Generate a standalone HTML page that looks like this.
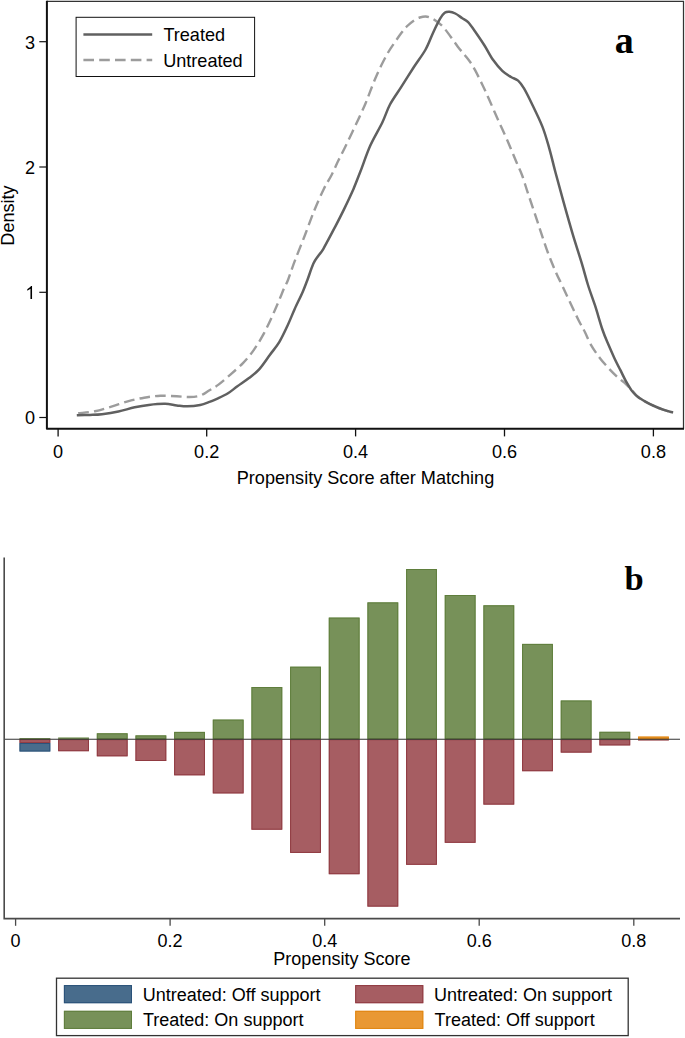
<!DOCTYPE html>
<html><head><meta charset="utf-8"><title>Figure</title>
<style>
html,body{margin:0;padding:0;background:#fff;}
body{width:685px;height:1038px;overflow:hidden;font-family:"Liberation Sans", sans-serif;}
svg{display:block;}
</style></head><body>
<svg width="685" height="1038" viewBox="0 0 685 1038">
<rect width="685" height="1038" fill="#fff"/>
<g font-family='"Liberation Sans", sans-serif' font-size="18.1" fill="#000">
<path d="M46.9,1.3 H683.5 V428.8" fill="none" stroke="#333" stroke-width="1.25"/>
<path d="M46.9,0.8 V428.8 H684.0" fill="none" stroke="#111" stroke-width="2" stroke-linejoin="round"/>
<line x1="39.3" x2="46.9" y1="41.7" y2="41.7" stroke="#111" stroke-width="1.2"/>
<text x="35.2" y="48.6" text-anchor="end">3</text>
<line x1="39.3" x2="46.9" y1="167.0" y2="167.0" stroke="#111" stroke-width="1.2"/>
<text x="35.2" y="173.9" text-anchor="end">2</text>
<line x1="39.3" x2="46.9" y1="292.3" y2="292.3" stroke="#111" stroke-width="1.2"/>
<path transform="translate(25.3,298.90) scale(0.008838,-0.008838)" d="M763,0 H583 V1147 Q518,1085 412.5,1023 Q307,961 223,930 V1104 Q374,1175 487,1276 Q600,1377 647,1472 H763 Z"/>
<line x1="39.3" x2="46.9" y1="417.5" y2="417.5" stroke="#111" stroke-width="1.2"/>
<text x="35.2" y="424.4" text-anchor="end">0</text>
<line x1="58.1" x2="58.1" y1="428.8" y2="436.4" stroke="#111" stroke-width="1.3"/>
<text x="58.1" y="457.9" text-anchor="middle">0</text>
<line x1="206.7" x2="206.7" y1="428.8" y2="436.4" stroke="#111" stroke-width="1.3"/>
<text x="206.7" y="457.9" text-anchor="middle">0.2</text>
<line x1="355.6" x2="355.6" y1="428.8" y2="436.4" stroke="#111" stroke-width="1.3"/>
<text x="355.6" y="457.9" text-anchor="middle">0.4</text>
<line x1="504.5" x2="504.5" y1="428.8" y2="436.4" stroke="#111" stroke-width="1.3"/>
<text x="504.5" y="457.9" text-anchor="middle">0.6</text>
<line x1="653.4" x2="653.4" y1="428.8" y2="436.4" stroke="#111" stroke-width="1.3"/>
<text x="653.4" y="457.9" text-anchor="middle">0.8</text>
<text x="365.5" y="483.8" text-anchor="middle">Propensity Score after Matching</text>
<text transform="translate(14.4,215.5) rotate(-90)" text-anchor="middle">Density</text>
<path d="M78.2,413.3 C81.0,412.9 89.5,412.3 95.0,411.2 C100.5,410.1 106.0,408.2 111.4,406.6 C116.9,405.0 122.2,402.9 127.7,401.4 C133.2,399.9 138.7,398.6 144.1,397.7 C149.5,396.8 154.9,396.0 160.4,395.8 C165.9,395.6 171.9,396.1 176.8,396.3 C181.7,396.5 185.7,397.1 189.6,397.0 C193.5,396.9 196.9,396.7 200.2,395.6 C203.5,394.5 206.4,392.0 209.5,390.2 C212.6,388.4 215.0,387.2 218.5,384.6 C222.0,382.0 226.3,378.2 230.4,374.6 C234.5,371.0 239.3,367.0 243.2,362.9 C247.1,358.8 250.4,354.8 253.7,350.1 C257.0,345.4 260.2,340.2 263.1,334.9 C266.0,329.6 268.7,323.9 271.2,318.5 C273.7,313.1 276.1,307.2 278.3,302.2 C280.5,297.1 282.5,291.9 284.1,288.2 C285.7,284.5 286.2,284.6 288.0,280.0 C289.8,275.4 292.1,267.9 295.0,260.4 C297.9,252.8 301.9,243.1 305.1,234.7 C308.3,226.3 311.3,217.8 314.4,210.2 C317.5,202.6 320.8,195.1 323.7,189.2 C326.6,183.3 329.2,179.7 331.6,175.0 C334.0,170.3 335.7,166.0 338.0,161.3 C340.3,156.6 342.9,151.7 345.3,146.7 C347.7,141.7 350.2,136.5 352.6,131.4 C355.0,126.3 357.8,120.8 359.9,116.1 C362.0,111.4 363.8,107.6 365.5,103.5 C367.2,99.4 368.5,95.8 370.1,91.6 C371.7,87.4 373.5,82.8 375.3,78.5 C377.1,74.2 378.9,70.2 381.1,65.8 C383.3,61.4 386.0,56.1 388.4,52.0 C390.8,47.9 393.3,44.5 395.5,41.3 C397.7,38.1 399.6,35.3 401.5,32.8 C403.4,30.3 404.6,28.6 406.7,26.5 C408.8,24.4 411.8,21.9 414.0,20.4 C416.2,18.9 417.9,18.1 419.8,17.5 C421.8,16.9 423.8,16.4 425.7,16.5 C427.6,16.6 429.6,17.3 431.5,18.2 C433.4,19.1 435.4,20.4 437.3,21.9 C439.2,23.4 441.0,24.6 443.2,27.0 C445.4,29.4 448.1,33.2 450.5,36.5 C452.9,39.8 455.4,43.5 457.8,46.7 C460.2,49.9 463.1,53.0 465.1,55.5 C467.1,58.0 468.3,59.4 470.0,61.8 C471.7,64.2 473.1,66.4 475.1,70.1 C477.1,73.8 479.7,79.3 482.0,84.0 C484.3,88.7 486.0,92.5 488.7,98.5 C491.4,104.5 494.9,112.8 498.0,119.8 C501.1,126.8 504.3,133.4 507.4,140.6 C510.5,147.8 514.3,157.1 516.7,162.8 C519.1,168.5 520.1,169.9 522.0,175.0 C523.9,180.1 525.4,185.7 528.0,193.4 C530.6,201.1 534.3,212.1 537.4,221.4 C540.5,230.7 543.6,240.8 546.7,249.4 C549.8,258.0 553.6,266.9 556.1,272.8 C558.6,278.7 559.8,280.3 562.0,285.0 C564.2,289.7 566.6,295.1 569.4,301.0 C572.2,306.9 576.1,315.3 578.7,320.5 C581.3,325.7 583.0,328.2 585.0,332.2 C587.0,336.2 588.4,340.4 590.8,344.6 C593.2,348.9 596.7,353.8 599.6,357.7 C602.5,361.6 605.5,364.8 608.4,368.0 C611.3,371.2 614.2,374.0 617.1,376.7 C620.0,379.4 623.5,381.8 625.9,384.0 C628.3,386.2 630.0,388.1 631.7,389.9 C633.4,391.7 634.6,393.6 636.0,395.0 C637.4,396.4 638.6,397.4 640.3,398.6 C642.0,399.8 644.2,401.1 646.3,402.2 C648.4,403.3 650.2,404.2 653.0,405.5 C655.8,406.8 659.8,408.5 663.1,409.7 C666.5,410.9 671.4,412.1 673.1,412.6" fill="none" stroke="#9c9c9c" stroke-width="2.4" stroke-dasharray="10.6 5.2"/>
<path d="M76.8,415.2 C79.0,415.1 85.8,415.0 90.0,414.9 C94.2,414.8 97.3,414.9 102.0,414.3 C106.7,413.7 113.0,412.7 118.4,411.5 C123.9,410.3 129.6,408.4 134.7,407.3 C139.8,406.2 143.7,405.5 148.8,404.9 C153.9,404.3 160.4,403.7 165.1,403.8 C169.8,403.9 173.1,405.0 176.8,405.4 C180.5,405.8 183.4,406.4 187.3,406.3 C191.2,406.2 196.5,405.6 200.2,404.9 C203.9,404.2 206.5,403.0 209.5,401.9 C212.5,400.8 214.9,399.7 218.0,398.3 C221.1,396.9 224.8,395.3 228.0,393.3 C231.2,391.3 233.9,388.8 237.4,386.3 C240.9,383.8 245.3,381.0 249.0,378.1 C252.7,375.2 256.1,372.7 259.6,368.8 C263.1,364.9 266.7,359.2 270.0,354.7 C273.3,350.2 276.5,346.8 279.4,341.9 C282.3,337.0 285.1,330.9 287.6,325.5 C290.1,320.1 292.1,314.8 294.6,309.2 C297.1,303.6 300.7,296.6 302.8,291.7 C304.9,286.8 305.6,284.6 307.4,280.0 C309.1,275.4 311.5,267.8 313.3,263.8 C315.1,259.8 316.5,258.5 318.2,256.0 C319.9,253.5 320.6,253.5 323.4,248.8 C326.1,244.1 331.2,234.3 334.7,227.7 C338.1,221.1 341.0,215.5 344.1,209.1 C347.2,202.7 350.6,195.5 353.4,189.2 C356.1,182.8 357.8,178.2 360.6,171.0 C363.4,163.8 366.6,153.9 370.2,145.8 C373.8,137.7 379.0,129.4 382.3,122.5 C385.6,115.6 386.8,110.5 390.0,104.5 C393.2,98.5 397.6,92.7 401.6,86.4 C405.6,80.2 409.9,73.2 413.9,67.0 C417.9,60.9 422.4,55.2 425.6,49.5 C428.8,43.8 430.7,37.8 433.1,32.7 C435.5,27.6 438.2,22.0 440.1,18.7 C442.0,15.4 443.1,14.0 444.7,12.8 C446.2,11.6 447.6,11.6 449.4,11.7 C451.2,11.8 453.1,12.4 455.3,13.5 C457.5,14.6 460.2,16.8 462.3,18.2 C464.4,19.6 466.0,20.0 468.1,22.2 C470.2,24.4 472.4,27.6 475.1,31.5 C477.8,35.4 481.5,40.8 484.5,45.5 C487.5,50.2 490.0,55.6 493.0,59.8 C496.0,64.0 499.3,68.0 502.3,70.9 C505.3,73.8 508.4,75.4 511.0,77.0 C513.6,78.6 515.9,78.7 518.1,80.6 C520.3,82.5 521.8,84.7 524.0,88.4 C526.2,92.1 528.4,96.6 531.5,103.0 C534.6,109.4 539.4,119.0 542.4,126.6 C545.4,134.2 547.2,141.2 549.4,148.8 C551.6,156.5 553.2,163.9 555.5,172.5 C557.8,181.1 560.3,190.3 563.1,200.4 C565.9,210.5 569.3,222.6 572.4,233.1 C575.5,243.6 579.2,254.7 581.8,263.4 C584.4,272.0 585.8,277.9 588.0,285.0 C590.2,292.1 592.7,298.3 595.1,305.7 C597.5,313.1 600.2,323.0 602.4,329.5 C604.6,336.0 606.4,339.9 608.4,344.6 C610.4,349.3 612.3,353.6 614.2,357.7 C616.1,361.8 618.0,365.5 620.0,369.4 C622.0,373.3 623.9,377.6 625.9,381.1 C627.9,384.6 630.0,388.2 631.7,390.6 C633.4,393.0 634.6,394.0 636.0,395.3 C637.4,396.6 638.6,397.5 640.3,398.6 C642.0,399.8 644.2,401.1 646.3,402.2 C648.4,403.3 650.2,404.2 653.0,405.5 C655.8,406.8 659.8,408.5 663.1,409.7 C666.5,410.9 671.4,412.1 673.1,412.6" fill="none" stroke="#606060" stroke-width="2.5" stroke-linejoin="round"/>
<rect x="76.1" y="17.3" width="178.5" height="59.2" fill="#fff" stroke="#111" stroke-width="1"/>
<line x1="83.4" x2="152.2" y1="34.45" y2="34.45" stroke="#606060" stroke-width="2.5"/>
<line x1="83.4" x2="152.2" y1="59.95" y2="59.95" stroke="#9c9c9c" stroke-width="2.4" stroke-dasharray="10.6 5.2"/>
<text x="163.4" y="41.2">Treated</text>
<text x="163.2" y="66.9">Untreated</text>
</g>
<text x="614.7" y="53.2" font-family='"Liberation Serif", serif' font-weight="bold" font-size="38" fill="#000">a</text>
<g>
<rect x="19.50" y="742.90" width="30.80" height="8.60" fill="#486c8c"/>
<rect x="20.00" y="743.40" width="29.80" height="7.60" fill="none" stroke="#2a5279" stroke-width="1.00"/>
<rect x="19.50" y="739.20" width="30.80" height="3.70" fill="#a65d62"/>
<rect x="20.00" y="739.70" width="29.80" height="2.70" fill="none" stroke="#903a41" stroke-width="1.00"/>
<rect x="19.50" y="738.00" width="30.80" height="1.20" fill="#779159"/>
<rect x="19.50" y="738.00" width="30.80" height="1.20" fill="#5f7e3c" opacity="0.25"/>
<rect x="58.16" y="739.20" width="30.80" height="12.00" fill="#a65d62"/>
<rect x="58.66" y="739.70" width="29.80" height="11.00" fill="none" stroke="#903a41" stroke-width="1.00"/>
<rect x="58.16" y="737.50" width="30.80" height="1.70" fill="#779159"/>
<rect x="58.16" y="737.50" width="30.80" height="1.70" fill="#5f7e3c" opacity="0.25"/>
<rect x="96.82" y="739.20" width="30.80" height="17.10" fill="#a65d62"/>
<rect x="97.32" y="739.70" width="29.80" height="16.10" fill="none" stroke="#903a41" stroke-width="1.00"/>
<rect x="96.82" y="733.30" width="30.80" height="5.90" fill="#779159"/>
<rect x="97.32" y="733.80" width="29.80" height="4.90" fill="none" stroke="#5f7e3c" stroke-width="1.00"/>
<rect x="135.48" y="739.20" width="30.80" height="21.80" fill="#a65d62"/>
<rect x="135.98" y="739.70" width="29.80" height="20.80" fill="none" stroke="#903a41" stroke-width="1.00"/>
<rect x="135.48" y="735.40" width="30.80" height="3.80" fill="#779159"/>
<rect x="135.98" y="735.90" width="29.80" height="2.80" fill="none" stroke="#5f7e3c" stroke-width="1.00"/>
<rect x="174.14" y="739.20" width="30.80" height="36.10" fill="#a65d62"/>
<rect x="174.64" y="739.70" width="29.80" height="35.10" fill="none" stroke="#903a41" stroke-width="1.00"/>
<rect x="174.14" y="731.90" width="30.80" height="7.30" fill="#779159"/>
<rect x="174.64" y="732.40" width="29.80" height="6.30" fill="none" stroke="#5f7e3c" stroke-width="1.00"/>
<rect x="212.80" y="739.20" width="30.80" height="54.20" fill="#a65d62"/>
<rect x="213.30" y="739.70" width="29.80" height="53.20" fill="none" stroke="#903a41" stroke-width="1.00"/>
<rect x="212.80" y="719.60" width="30.80" height="19.60" fill="#779159"/>
<rect x="213.30" y="720.10" width="29.80" height="18.60" fill="none" stroke="#5f7e3c" stroke-width="1.00"/>
<rect x="251.46" y="739.20" width="30.80" height="90.50" fill="#a65d62"/>
<rect x="251.96" y="739.70" width="29.80" height="89.50" fill="none" stroke="#903a41" stroke-width="1.00"/>
<rect x="251.46" y="687.00" width="30.80" height="52.20" fill="#779159"/>
<rect x="251.96" y="687.50" width="29.80" height="51.20" fill="none" stroke="#5f7e3c" stroke-width="1.00"/>
<rect x="290.12" y="739.20" width="30.80" height="113.70" fill="#a65d62"/>
<rect x="290.62" y="739.70" width="29.80" height="112.70" fill="none" stroke="#903a41" stroke-width="1.00"/>
<rect x="290.12" y="666.70" width="30.80" height="72.50" fill="#779159"/>
<rect x="290.62" y="667.20" width="29.80" height="71.50" fill="none" stroke="#5f7e3c" stroke-width="1.00"/>
<rect x="328.78" y="739.20" width="30.80" height="135.00" fill="#a65d62"/>
<rect x="329.28" y="739.70" width="29.80" height="134.00" fill="none" stroke="#903a41" stroke-width="1.00"/>
<rect x="328.78" y="617.60" width="30.80" height="121.60" fill="#779159"/>
<rect x="329.28" y="618.10" width="29.80" height="120.60" fill="none" stroke="#5f7e3c" stroke-width="1.00"/>
<rect x="367.44" y="739.20" width="30.80" height="167.40" fill="#a65d62"/>
<rect x="367.94" y="739.70" width="29.80" height="166.40" fill="none" stroke="#903a41" stroke-width="1.00"/>
<rect x="367.44" y="602.40" width="30.80" height="136.80" fill="#779159"/>
<rect x="367.94" y="602.90" width="29.80" height="135.80" fill="none" stroke="#5f7e3c" stroke-width="1.00"/>
<rect x="406.10" y="739.20" width="30.80" height="125.60" fill="#a65d62"/>
<rect x="406.60" y="739.70" width="29.80" height="124.60" fill="none" stroke="#903a41" stroke-width="1.00"/>
<rect x="406.10" y="569.00" width="30.80" height="170.20" fill="#779159"/>
<rect x="406.60" y="569.50" width="29.80" height="169.20" fill="none" stroke="#5f7e3c" stroke-width="1.00"/>
<rect x="444.76" y="739.20" width="30.80" height="103.60" fill="#a65d62"/>
<rect x="445.26" y="739.70" width="29.80" height="102.60" fill="none" stroke="#903a41" stroke-width="1.00"/>
<rect x="444.76" y="595.00" width="30.80" height="144.20" fill="#779159"/>
<rect x="445.26" y="595.50" width="29.80" height="143.20" fill="none" stroke="#5f7e3c" stroke-width="1.00"/>
<rect x="483.42" y="739.20" width="30.80" height="65.40" fill="#a65d62"/>
<rect x="483.92" y="739.70" width="29.80" height="64.40" fill="none" stroke="#903a41" stroke-width="1.00"/>
<rect x="483.42" y="605.30" width="30.80" height="133.90" fill="#779159"/>
<rect x="483.92" y="605.80" width="29.80" height="132.90" fill="none" stroke="#5f7e3c" stroke-width="1.00"/>
<rect x="522.08" y="739.20" width="30.80" height="32.00" fill="#a65d62"/>
<rect x="522.58" y="739.70" width="29.80" height="31.00" fill="none" stroke="#903a41" stroke-width="1.00"/>
<rect x="522.08" y="643.90" width="30.80" height="95.30" fill="#779159"/>
<rect x="522.58" y="644.40" width="29.80" height="94.30" fill="none" stroke="#5f7e3c" stroke-width="1.00"/>
<rect x="560.74" y="739.20" width="30.80" height="13.40" fill="#a65d62"/>
<rect x="561.24" y="739.70" width="29.80" height="12.40" fill="none" stroke="#903a41" stroke-width="1.00"/>
<rect x="560.74" y="700.50" width="30.80" height="38.70" fill="#779159"/>
<rect x="561.24" y="701.00" width="29.80" height="37.70" fill="none" stroke="#5f7e3c" stroke-width="1.00"/>
<rect x="599.40" y="739.20" width="30.80" height="6.20" fill="#a65d62"/>
<rect x="599.90" y="739.70" width="29.80" height="5.20" fill="none" stroke="#903a41" stroke-width="1.00"/>
<rect x="599.40" y="731.80" width="30.80" height="7.40" fill="#779159"/>
<rect x="599.90" y="732.30" width="29.80" height="6.40" fill="none" stroke="#5f7e3c" stroke-width="1.00"/>
<rect x="638.06" y="739.20" width="30.80" height="1.40" fill="#a65d62"/>
<rect x="638.06" y="739.20" width="30.80" height="1.40" fill="#903a41" opacity="0.25"/>
<rect x="638.06" y="736.60" width="30.80" height="2.60" fill="#e99833"/>
<rect x="638.56" y="737.10" width="29.80" height="1.60" fill="none" stroke="#e0850f" stroke-width="1.00"/>
</g>
<line x1="4" x2="680" y1="739.2" y2="739.2" stroke="#333" stroke-width="1.1"/>
<path d="M4.2,557.4 V918.6 H680" fill="none" stroke="#4a4a4a" stroke-width="1.6"/>
<g font-family='"Liberation Sans", sans-serif' font-size="18.0" fill="#000">
<line x1="15.6" x2="15.6" y1="918.5" y2="925.8" stroke="#4a4a4a" stroke-width="1.3"/>
<text x="15.6" y="946.7" text-anchor="middle">0</text>
<line x1="170.1" x2="170.1" y1="918.5" y2="925.8" stroke="#4a4a4a" stroke-width="1.3"/>
<text x="170.1" y="946.7" text-anchor="middle">0.2</text>
<line x1="324.7" x2="324.7" y1="918.5" y2="925.8" stroke="#4a4a4a" stroke-width="1.3"/>
<text x="324.7" y="946.7" text-anchor="middle">0.4</text>
<line x1="479.2" x2="479.2" y1="918.5" y2="925.8" stroke="#4a4a4a" stroke-width="1.3"/>
<text x="479.2" y="946.7" text-anchor="middle">0.6</text>
<line x1="633.8" x2="633.8" y1="918.5" y2="925.8" stroke="#4a4a4a" stroke-width="1.3"/>
<text x="633.8" y="946.7" text-anchor="middle">0.8</text>
<text x="341.9" y="964.5" text-anchor="middle">Propensity Score</text>
<rect x="56.5" y="978.2" width="571.7" height="57.4" fill="#fff" stroke="#333" stroke-width="1.3"/>
<rect x="63.90" y="985.10" width="68.10" height="18.10" fill="#486c8c"/>
<rect x="64.40" y="985.60" width="67.10" height="17.10" fill="none" stroke="#2a5279" stroke-width="1.00"/>
<rect x="63.90" y="1010.80" width="68.10" height="18.10" fill="#779159"/>
<rect x="64.40" y="1011.30" width="67.10" height="17.10" fill="none" stroke="#5f7e3c" stroke-width="1.00"/>
<rect x="355.20" y="985.10" width="68.10" height="18.10" fill="#a65d62"/>
<rect x="355.70" y="985.60" width="67.10" height="17.10" fill="none" stroke="#903a41" stroke-width="1.00"/>
<rect x="355.20" y="1010.80" width="68.10" height="18.10" fill="#e99833"/>
<rect x="355.70" y="1011.30" width="67.10" height="17.10" fill="none" stroke="#e0850f" stroke-width="1.00"/>
<text x="142.8" y="1001">Untreated: Off support</text>
<text x="143" y="1025.8">Treated: On support</text>
<text x="434" y="1001">Untreated: On support</text>
<text x="434.6" y="1025.8">Treated: Off support</text>
</g>
<text x="624.4" y="589.5" font-family='"Liberation Serif", serif' font-weight="bold" font-size="34.5" fill="#000">b</text>
</svg>
</body></html>
